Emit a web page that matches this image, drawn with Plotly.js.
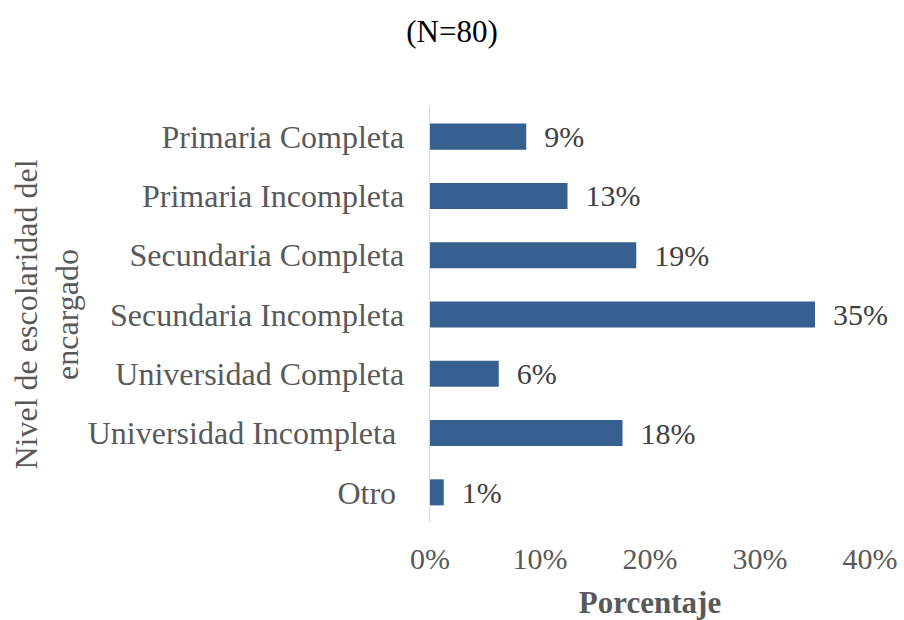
<!DOCTYPE html>
<html>
<head>
<meta charset="utf-8">
<script src="https://cdn.plot.ly/plotly-3.0.1.min.js"></script>
<style>
html,body{margin:0;padding:0;background:#fff;}
#chart{width:904px;height:620px;}
</style>
</head>
<body>
<div id="chart"></div>
<script>
const categories = [
  "Primaria Completa",
  "Primaria Incompleta",
  "Secundaria Completa",
  "Secundaria Incompleta",
  "Universidad Completa",
  "Universidad Incompleta\u00a0",
  "Otro\u00a0"
];
const percentages = [8.75, 12.5, 18.75, 35, 6.25, 17.5, 1.25];
const tickValues = [0, 10, 20, 30, 40];
const tickLabels = ["0%", "10%", "20%", "30%", "40%"];
const yTitle = 'Nivel de escolaridad del<br>encargado';

const FONT = '"Liberation Serif", "Times New Roman", serif';

const trace = {
  type: 'bar',
  orientation: 'h',
  x: percentages,
  y: categories,
  marker: {color: '#35608F'},
  texttemplate: '\u00a0\u00a0%{x:.0f}%',
  textposition: 'outside',
  constraintext: 'none',
  cliponaxis: false,
  textfont: {family: FONT, size: 30, color: '#404040'},
  hoverinfo: 'none'
};

const layout = {
  width: 904,
  height: 620,
  margin: {l: 430, r: 34, t: 107, b: 98},
  paper_bgcolor: '#ffffff',
  plot_bgcolor: '#ffffff',
  showlegend: false,
  bargap: 0.56,
  font: {family: FONT, size: 30, color: '#595959'},
  title: {
    text: '(N=80)',
    x: 0.5, xref: 'container', xanchor: 'center',
    y: 0.95, yref: 'container', yanchor: 'middle',
    font: {family: FONT, size: 31, color: '#000000'}
  },
  xaxis: {
    range: [0, 40],
    tickvals: tickValues,
    ticktext: tickLabels,
    showgrid: false,
    zeroline: false,
    showline: false,
    ticks: '',
    ticklabelstandoff: 16,
    tickfont: {family: FONT, size: 30, color: '#595959'},
    title: {text: '<b>Porcentaje</b>', font: {family: FONT, size: 31, color: '#595959'}, standoff: 18},
    automargin: false,
    fixedrange: true
  },
  yaxis: {
    autorange: 'reversed',
    type: 'category',
    showgrid: false,
    zeroline: false,
    showline: true,
    linecolor: '#d9d9d9',
    linewidth: 1.5,
    ticks: '',
    ticklabelstandoff: 18,
    tickfont: {family: FONT, size: 32, color: '#595959'},
    automargin: false,
    fixedrange: true
  },
  annotations: [{
    text: yTitle,
    xref: 'paper', yref: 'paper',
    x: 0, y: 0.5,
    xanchor: 'center', yanchor: 'middle',
    xshift: -384,
    textangle: -90,
    showarrow: false,
    font: {family: FONT, size: 32, color: '#595959'}
  }]
};

Plotly.newPlot('chart', [trace], layout, {displayModeBar: false, staticPlot: true});
</script>
</body>
</html>
